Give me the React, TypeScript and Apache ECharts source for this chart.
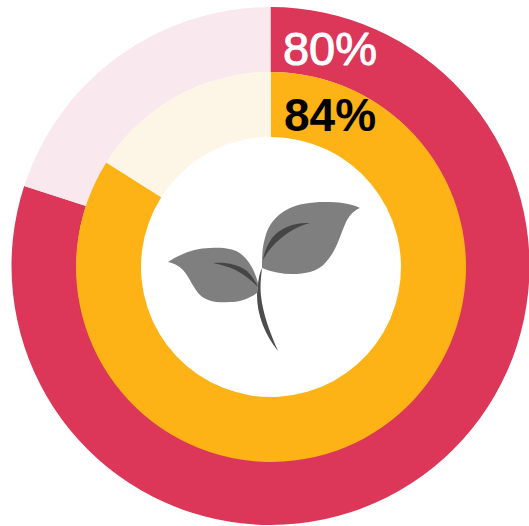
import React, { useEffect, useRef } from "react";
import * as echarts from "echarts";

const outerValues = [80, 20];
const innerValues = [84, 16];
const outerLabel = "80%";
const innerLabel = "84%";
const outerColors = ["#dc3659", "#f9e8ee"];
const innerColors = ["#fdb215", "#fdf6e6"];

const reg = (name: string, d: string) => echarts.graphic.registerShape(name, echarts.graphic.extendPath(d as any, {} as any));
reg("leafLeft", "M168 262 C182 253 196 248 210 248 C224 247 232 249 238 252 C247 257 255 270 258 283 L257 293 C250 298 240 302 230 302 C218 303 208 302 200 295 C193 288 190 278 183 270 C178 265 173 263 168 262 Z");
reg("leafRight", "M360 208 C350 203 338 202 325 202 C310 202 298 204 288 209 C276 215 268 225 265 238 C262 248 262 258 262 268 C272 272 282 274 292 274 C305 274 318 272 326 262 C337 250 340 235 346 222 C350 214 355 210 360 208 Z");
reg("stem", "M262 268 C259 274 258 282 257 295 C257 315 265 335 278 351 C271 335 263 315 261 296 C260 285 261 277 262 268 Z");
reg("vein", "M310 223 C295 222 280 228 272 238 C267 245 264 253 263 260 C267 252 273 245 280 239 C288 232 298 226 310 223 Z M213 263 C225 262 238 264 247 271 C251 275 255 280 258 287 C252 281 246 276 239 272 C231 267 222 265 213 263 Z");

export default function App() {
  const ref = useRef<HTMLDivElement>(null);
  useEffect(() => {
    const chart = echarts.init(ref.current!, undefined, { renderer: "svg" });
    chart.setOption({
      animation: false,
      backgroundColor: "#ffffff",
      series: [
        {
          type: "pie", silent: true, center: [270.5, 266], radius: [194, 259], startAngle: 90, clockwise: true,
          label: { show: false }, labelLine: { show: false },
          data: outerValues.map((v, i) => ({ value: v, itemStyle: { color: outerColors[i] } })),
        },
        {
          type: "pie", silent: true, center: [271, 267], radius: [130, 195], startAngle: 90, clockwise: true,
          label: { show: false }, labelLine: { show: false },
          data: innerValues.map((v, i) => ({ value: v, itemStyle: { color: innerColors[i] } })),
        },
      ],
      graphic: [
        { type: "leafLeft", z: 10, style: { fill: "#7f7f7f" } },
        { type: "leafRight", z: 10, style: { fill: "#7f7f7f" } },
        { type: "vein", z: 11, style: { fill: "#454545" } },
        { type: "stem", z: 11, style: { fill: "#4d4d4d" } },
        { type: "text", z: 12, x: 330, y: 48, style: { text: outerLabel, fill: "#ffffff", stroke: "#ffffff", lineWidth: 1, font: "47px 'Liberation Sans'", textAlign: "center", textVerticalAlign: "middle" } },
        { type: "text", z: 12, x: 330, y: 115, style: { text: innerLabel, fill: "#000000", font: "bold 46px 'Liberation Sans'", textAlign: "center", textVerticalAlign: "middle" } },
      ],
    });
    return () => chart.dispose();
  }, []);
  return <div ref={ref} style={{ position: "fixed", left: 0, top: 0, width: 529, height: 526 }} />;
}
